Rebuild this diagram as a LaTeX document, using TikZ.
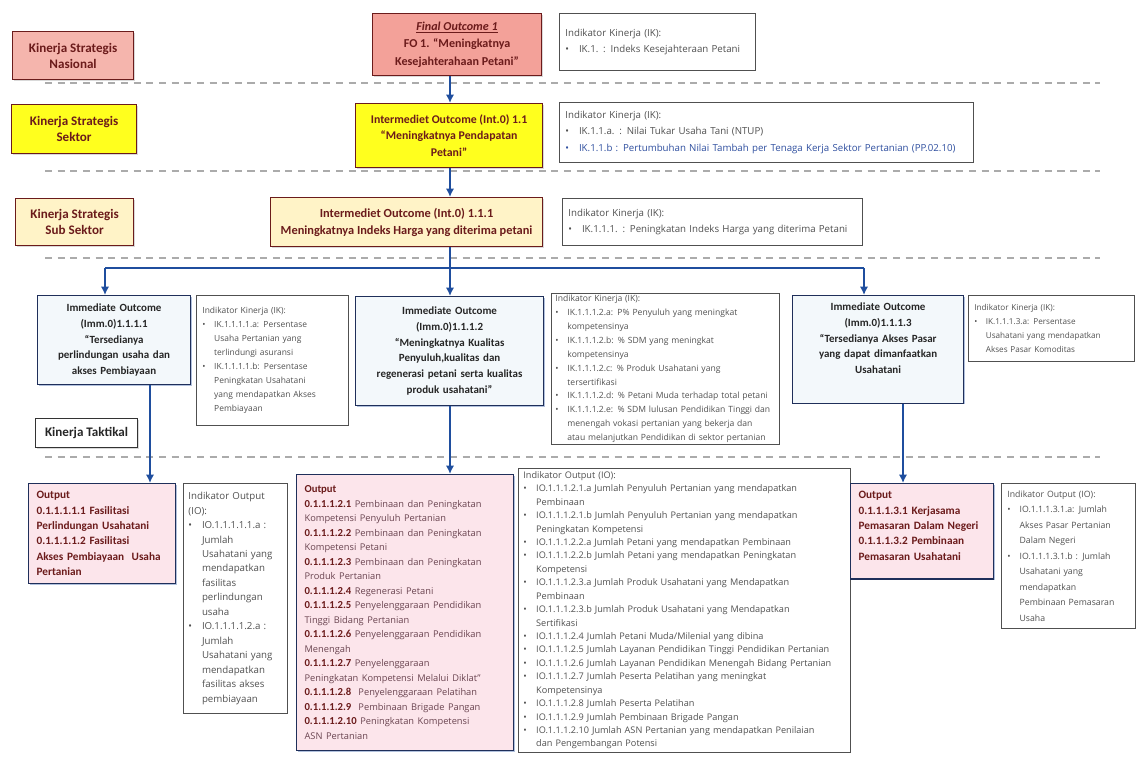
\documentclass[tikz,border=0pt]{standalone}
\usepackage{fontspec}
\setmainfont{Carlito}
\newfontfamily\ikfont{Open Sans}
\usetikzlibrary{shadows,arrows.meta}

\definecolor{merahtua}{HTML}{6B1B1B}
\definecolor{nasional}{HTML}{F5B5AD}
\definecolor{final}{HTML}{F3A199}
\definecolor{kuning}{HTML}{FFFF1E}
\definecolor{krem}{HTML}{FFF3C7}
\definecolor{biru}{HTML}{1F4E9E}
\definecolor{birumuda}{HTML}{2F4F9F}
\definecolor{navy}{HTML}{1F2F5A}
\definecolor{immfill}{HTML}{F3F8FB}
\definecolor{outfill}{HTML}{FCE5EB}
\definecolor{abu}{HTML}{505050}
\definecolor{ungu}{HTML}{6A4450}
\definecolor{garis}{HTML}{ABABAB}

\newcommand{\bul}{\makebox[1.4em][l]{\textbullet}}
\newcommand{\lan}{\hspace*{1.4em}}
\newcommand{\keg}[2]{\textbf{#1}\ {\ikfont\fontsize{6.6}{10.3}\selectfont\color{ungu}#2}}
\newcommand{\ket}[1]{{\ikfont\fontsize{6.6}{10.3}\selectfont\color{ungu}#1}}

\begin{document}
\begin{tikzpicture}[x=0.025cm, y=-0.025cm,
	every node/.style={draw, align=center, inner sep=0pt, anchor=north west},
	sz/.style 2 args={minimum width=#1*0.025cm, minimum height=#2*0.025cm},
	kin/.style={draw=merahtua, thick, text=merahtua, font=\fontsize{9.3}{11.5}\selectfont\bfseries,
		drop shadow={opacity=0.3, shadow xshift=1pt, shadow yshift=-1pt}},
	ind/.style 2 args={draw=abu, line width=0.6pt, text=abu, align=left, inner xsep=6*0.025cm,
		text width=(#1-12)*0.025cm, minimum height=#2*0.025cm, font=\ikfont\fontsize{6.9}{11.5}\selectfont},
	imm/.style={draw=navy, thick, fill=immfill, text=black!85, inner xsep=5*0.025cm, inner ysep=7*0.025cm,
		text width=#1*0.025cm-10*0.025cm, font=\fontsize{7.8}{11.3}\selectfont\bfseries,
		drop shadow={fill=biru, opacity=0.35, shadow xshift=0.8pt, shadow yshift=-0.8pt}},
	out/.style={draw=navy, thick, fill=outfill, text=merahtua, align=left, inner xsep=8*0.025cm, inner ysep=8*0.025cm,
		text width=#1*0.025cm-16*0.025cm, font=\fontsize{8}{10.9}\selectfont\bfseries,
		drop shadow={fill=biru, opacity=0.35, shadow xshift=0.8pt, shadow yshift=-0.8pt}},
	arr/.style={draw=biru, line width=1.9pt, -{Latex[length=6pt,width=6pt]}},
	bus/.style={draw=biru, line width=1.9pt},
	putus/.style={draw=garis, line width=0.8pt, dash pattern=on 5pt off 4pt}]

	\useasboundingbox (0,0) rectangle (1143,760);

	\draw[putus] (45,83) -- (1100,83);
	\draw[putus] (45,171) -- (1100,171);
	\draw[putus] (45,258) -- (1100,258);
	\draw[putus] (45,457) -- (1100,457);

	\node[kin, fill=nasional, sz={121}{48}] (nas) at (12,31) {Kinerja Strategis\\Nasional};
	\node[kin, fill=final, sz={169}{62}, font=\fontsize{8.6}{12.5}\selectfont\bfseries] (fo) at (372,13)
		{\textit{\underline{Final Outcome 1}}\\FO 1. “Meningkatnya\\Kesejahterahaan Petani”};
	\node[ind={196}{57}] (ik1) at (559,13) {Indikator Kinerja (IK):\\\bul IK.1. : Indeks Kesejahteraan Petani};

	\node[kin, fill=kuning, sz={125}{49}] (sek) at (11,104) {Kinerja Strategis\\Sektor};
	\node[kin, fill=kuning, sz={187}{64}, font=\fontsize{8.4}{12}\selectfont\bfseries] (int1) at (355,103)
		{Intermediet Outcome (Int.0) 1.1\\“Meningkatnya Pendapatan\\Petani”};
	\node[ind={414}{60}] (ik2) at (559,102) {Indikator Kinerja (IK):\\\bul IK.1.1.a. : Nilai Tukar Usaha Tani (NTUP)\\
		\textcolor{birumuda}{\bul IK.1.1.b : Pertumbuhan Nilai Tambah per Tenaga Kerja Sektor Pertanian (PP.02.10)}};

	\node[kin, fill=krem, sz={118}{47}] (sub) at (15,198) {Kinerja Strategis\\Sub Sektor};
	\node[kin, fill=krem, sz={272}{49}, font=\fontsize{8.8}{12}\selectfont\bfseries] (int2) at (270,197)
		{Intermediet Outcome (Int.0) 1.1.1\\Meningkatnya Indeks Harga yang diterima petani};
	\node[ind={300}{47}] (ik3) at (562,198) {Indikator Kinerja (IK):\\\bul IK.1.1.1. : Peningkatan Indeks Harga yang diterima Petani};

	\node[imm=153, minimum height=89*0.025cm] (imm1) at (37,295)
		{Immediate Outcome\\(Imm.0)1.1.1.1\\“Tersedianya\\perlindungan usaha dan\\akses Pembiayaan};
	\node[ind={152}{130}, font=\ikfont\fontsize{6}{10}\selectfont] (ik4) at (196,295)
		{Indikator Kinerja (IK):\\\bul IK.1.1.1.1.a: Persentase\\\lan Usaha Pertanian yang\\\lan terlindungi asuransi\\
		\bul IK.1.1.1.1.b: Persentase\\\lan Peningkatan Usahatani\\\lan yang mendapatkan Akses\\\lan Pembiayaan};

	\node[imm=188, minimum height=109*0.025cm] (imm2) at (355,296)
		{Immediate Outcome\\(Imm.0)1.1.1.2\\“Meningkatnya Kualitas\\Penyuluh,kualitas dan\\regenerasi petani serta kualitas\\produk usahatani”};
	\node[ind={228}{151}, inner xsep=4*0.025cm, text width=220*0.025cm, font=\ikfont\fontsize{6.1}{9.9}\selectfont] (ik5) at (551,293)
		{Indikator Kinerja (IK):\\\bul IK.1.1.1.2.a: P\% Penyuluh yang meningkat\\\lan kompetensinya\\
		\bul IK.1.1.1.2.b: \% SDM yang meningkat\\\lan kompetensinya\\
		\bul IK.1.1.1.2.c: \% Produk Usahatani yang\\\lan tersertifikasi\\
		\bul IK.1.1.1.2.d: \% Petani Muda terhadap total petani\\
		\bul IK.1.1.1.2.e: \% SDM lulusan Pendidikan Tinggi dan\\\lan menengah vokasi pertanian yang bekerja dan\\\lan atau melanjutkan Pendidikan di sektor pertanian};

	\node[imm=171, text depth=2.15cm] (imm3) at (792,295)
		{Immediate Outcome\\(Imm.0)1.1.1.3\\“Tersedianya Akses Pasar\\yang dapat dimanfaatkan\\Usahatani};
	\node[ind={166}{66}, font=\ikfont\fontsize{5.8}{10}\selectfont] (ik6) at (968,295)
		{Indikator Kinerja (IK):\\\bul IK.1.1.1.3.a: Persentase\\\lan Usahatani yang mendapatkan\\\lan Akses Pasar Komoditas};

	\node[kin, draw=black!80, fill=white, text=black!85, sz={102}{29}] (tak) at (35,418) {Kinerja Taktikal};

	\node[out=147, minimum height=96*0.025cm] (out1) at (28,483)
		{Output\\0.1.1.1.1.1 Fasilitasi\\Perlindungan Usahatani\\0.1.1.1.1.2 Fasilitasi\\Akses Pembiayaan\ \ Usaha\\Pertanian};
	\node[ind={104}{230}, inner xsep=5*0.025cm, text width=94*0.025cm, font=\ikfont\fontsize{6.9}{10.3}\selectfont] (io1) at (183,483)
		{Indikator Output\\(IO):\\\bul IO.1.1.1.1.1.a :\\\lan Jumlah\\\lan Usahatani yang\\\lan mendapatkan\\\lan fasilitas\\\lan perlindungan\\\lan usaha\\
		\bul IO.1.1.1.1.2.a :\\\lan Jumlah\\\lan Usahatani yang\\\lan mendapatkan\\\lan fasilitas akses\\\lan pembiayaan};

	\node[out=217, minimum height=276*0.025cm, font=\fontsize{7.6}{10.3}\selectfont] (out2) at (296,474)
		{\textbf{Output}\\
		\keg{0.1.1.1.2.1}{Pembinaan dan Peningkatan}\\\ket{Kompetensi Penyuluh Pertanian}\\
		\keg{0.1.1.1.2.2}{Pembinaan dan Peningkatan}\\\ket{Kompetensi Petani}\\
		\keg{0.1.1.1.2.3}{Pembinaan dan Peningkatan}\\\ket{Produk Pertanian}\\
		\keg{0.1.1.1.2.4}{Regenerasi Petani}\\
		\keg{0.1.1.1.2.5}{Penyelenggaraan Pendidikan}\\\ket{Tinggi Bidang Pertanian}\\
		\keg{0.1.1.1.2.6}{Penyelenggaraan Pendidikan}\\\ket{Menengah}\\
		\keg{0.1.1.1.2.7}{Penyelenggaraan}\\\ket{Peningkatan Kompetensi Melalui Diklat”}\\
		\keg{0.1.1.1.2.8}{\ Penyelenggaraan Pelatihan}\\
		\keg{0.1.1.1.2.9}{\ Pembinaan Brigade Pangan}\\
		\keg{0.1.1.1.2.10}{Peningkatan Kompetensi}\\\ket{ASN Pertanian}};
	\node[ind={332}{0}, inner xsep=5*0.025cm, inner ysep=3*0.025cm, text width=322*0.025cm, font=\ikfont\fontsize{6.5}{9.55}\selectfont] (io2) at (518,468)
		{Indikator Output (IO):\\
		\bul IO.1.1.1.2.1.a Jumlah Penyuluh Pertanian yang mendapatkan\\\lan Pembinaan\\
		\bul IO.1.1.1.2.1.b Jumlah Penyuluh Pertanian yang mendapatkan\\\lan Peningkatan Kompetensi\\
		\bul IO.1.1.1.2.2.a Jumlah Petani yang mendapatkan Pembinaan\\
		\bul IO.1.1.1.2.2.b Jumlah Petani yang mendapatkan Peningkatan\\\lan Kompetensi\\
		\bul IO.1.1.1.2.3.a Jumlah Produk Usahatani yang Mendapatkan\\\lan Pembinaan\\
		\bul IO.1.1.1.2.3.b Jumlah Produk Usahatani yang Mendapatkan\\\lan Sertifikasi\\
		\bul IO.1.1.1.2.4 Jumlah Petani Muda/Milenial yang dibina\\
		\bul IO.1.1.1.2.5 Jumlah Layanan Pendidikan Tinggi Pendidikan Pertanian\\
		\bul IO.1.1.1.2.6 Jumlah Layanan Pendidikan Menengah Bidang Pertanian\\
		\bul IO.1.1.1.2.7 Jumlah Peserta Pelatihan yang meningkat\\\lan Kompetensinya\\
		\bul IO.1.1.1.2.8 Jumlah Peserta Pelatihan\\
		\bul IO.1.1.1.2.9 Jumlah Pembinaan Brigade Pangan\\
		\bul IO.1.1.1.2.10 Jumlah ASN Pertanian yang mendapatkan Penilaian\\\lan dan Pengembangan Potensi\\[12pt]};

	\node[out=143, text depth=1.8cm] (out3) at (850,483)
		{Output\\0.1.1.1.3.1 Kerjasama\\Pemasaran Dalam Negeri\\0.1.1.1.3.2 Pembinaan\\Pemasaran Usahatani};
	\node[ind={134}{145}, font=\ikfont\fontsize{6.2}{11}\selectfont] (io3) at (1001,483)
		{Indikator Output (IO):\\\bul IO.1.1.1.3.1.a: Jumlah\\\lan Akses Pasar Pertanian\\\lan Dalam Negeri\\
		\bul IO.1.1.1.3.1.b : Jumlah\\\lan Usahatani yang\\\lan mendapatkan\\\lan Pembinaan Pemasaran\\\lan Usaha};

	\coordinate (tr) at (450,0);
	\coordinate (b1) at (105,268);
	\coordinate (b3) at (864,268);
	\coordinate (a1) at (150,0);
	\coordinate (a3) at (903,0);

	\path (fo.south -| tr) edge[arr] (int1.north -| tr);
	\path (int1.south -| tr) edge[arr] (int2.north -| tr);
	\path (int2.south -| tr) edge[arr] (imm2.north -| tr);
	\path (b1) edge[bus] (b3);
	\path (b1) edge[arr] (imm1.north -| b1);
	\path (b3) edge[arr] (imm3.north -| b3);

	\path (imm1.south -| a1) edge[arr] (out1.north -| a1);
	\path (imm2.south -| tr) edge[arr] (out2.north -| tr);
	\path (imm3.south -| a3) edge[arr] (out3.north -| a3);

\end{tikzpicture}
\end{document}
